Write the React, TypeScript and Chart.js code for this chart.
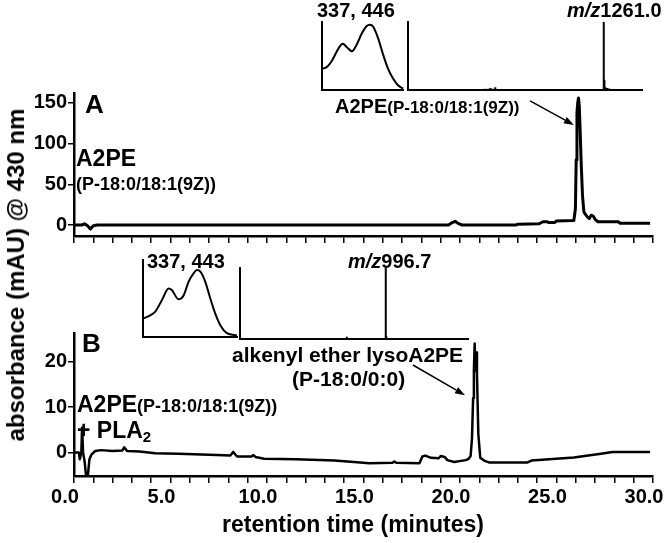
import React, { useEffect, useRef } from "react";
import { Chart, registerables } from "chart.js";

Chart.register(...registerables);

const FONT = '"Liberation Sans", Arial, Helvetica, sans-serif';

// ---- Panel A chromatogram: retention time (min) / absorbance (mAU) ----
const timeA = [0, 0.4, 0.55, 0.7, 0.85, 1.0, 1.2, 19.4, 19.6, 19.75, 19.9, 20.1, 22.9, 23.0, 24.1, 24.3, 24.5, 24.6, 24.9, 25.0, 25.9, 25.98, 26.02, 26.06, 26.1, 26.14, 26.18, 26.22, 26.28, 26.35, 26.42, 26.5, 26.6, 26.7, 26.8, 26.9, 27.0, 27.15, 28.2, 28.3, 29.85];
const absA = [0, 0, 1.5, -1, -5, -1, 0, 0, 3, 4.5, 2, 0, 0, 1, 1.5, 4, 4, 3, 3, 5, 5.5, 20, 80, 138, 150, 156, 146, 120, 75, 35, 16, 13, 10, 8, 12, 11, 7, 4, 4, 2, 2];

// ---- Panel B chromatogram ----
const timeB = [0, 0.25, 0.3, 0.38, 0.42, 0.47, 0.55, 0.62, 0.72, 0.8, 0.9, 1.1, 1.4, 2.0, 2.5, 2.6, 2.75, 3.4, 4.2, 5.4, 7.4, 8.1, 8.25, 8.45, 9.2, 9.3, 9.4, 9.85, 11.5, 13.5, 14.5, 15.3, 16.5, 16.6, 16.7, 17.9, 18.05, 18.2, 18.5, 18.9, 19.0, 19.2, 19.35, 19.7, 20.3, 20.45, 20.55, 20.62, 20.68, 20.72, 20.76, 20.8, 20.84, 20.88, 20.95, 21.05, 21.25, 21.5, 23.5, 23.7, 25.9, 27.3, 27.9, 29.85];
const absB = [0, 0, -1.5, 0, 5.5, 0, -2, -5, -5, -1.5, -0.5, 0.3, 0.5, 0.3, 0.4, 1.1, 0.3, 0.2, -0.2, -0.3, -0.6, -0.7, 0.1, -0.9, -0.9, -0.6, -1.0, -1.4, -1.5, -1.8, -2.1, -2.4, -2.3, -2.0, -2.3, -2.4, -0.9, -0.7, -1.2, -1.3, -0.8, -1.0, -1.7, -2.1, -1.7, -1.4, -0.8, 3, 12, 18, 24, 18, 22, 17, 4, -1.2, -1.8, -2.2, -2.2, -1.8, -1.1, -0.3, 0.1, 0.1];

// axes
const xRange = [0, 30];
const xMinorStep = 1;
const xLabelStep = 5;
const yRangeA = [-13.5, 162];
const yStepA = 50;
const yRangeB = [-5.2, 26.3];
const yStepB = 10;

// arrows (from [time, value] to [time, value])
const arrowA = { from: [23.63, 152.4], to: [25.9, 122.7] };
const arrowB = { from: [17.56, 19.25], to: [20.26, 12.6] };

// ---- UV/Vis insets (wavelength nm, normalized absorbance) ----
const uvNmA = [253, 273, 293, 313, 326, 337, 353, 373, 393, 413, 433, 446, 459, 479, 499, 519, 539, 559, 579];
const uvAbsA = [0.31, 0.34, 0.43, 0.57, 0.65, 0.68, 0.63, 0.57, 0.67, 0.83, 0.94, 0.96, 0.93, 0.76, 0.52, 0.31, 0.17, 0.07, 0.02];
const uvNmB = [241, 268, 287, 312, 337, 349, 374, 393, 412, 431, 443, 456, 474, 493, 512, 531, 555, 593];
const uvAbsB = [0.24, 0.28, 0.33, 0.48, 0.63, 0.61, 0.49, 0.54, 0.72, 0.83, 0.87, 0.85, 0.72, 0.5, 0.3, 0.15, 0.05, 0.02];

// ---- mass spectra insets (m/z, relative intensity) ----
const msRange = [140, 1480];
const msMzA = [580, 600, 612, 625, 640, 1261.0, 1263, 1266, 1270, 1276, 1283, 1291, 1298];
const msIntA = [0.02, 0.02, 0.03, 0.02, 0.04, 1.0, 0.15, 0.06, 0.04, 0.03, 0.03, 0.02, 0.02];
const msMzB = [768, 996.7, 1000];
const msIntB = [0.03, 1.0, 0.04];

const tickFont = { family: FONT, size: 20, weight: "bold" as const };

const arrowPlugin = {
  id: "arrows",
  afterDatasetsDraw(chart: any, _a: any, opts: any) {
    const items = (opts && opts.items) || [];
    const { ctx } = chart;
    const xs = chart.scales.x;
    const ys = chart.scales.y;
    ctx.save();
    ctx.strokeStyle = "#000";
    ctx.fillStyle = "#000";
    ctx.lineWidth = 1.5;
    for (const a of items) {
      const x1 = xs.getPixelForValue(a.from[0]);
      const y1 = ys.getPixelForValue(a.from[1]);
      const x2 = xs.getPixelForValue(a.to[0]);
      const y2 = ys.getPixelForValue(a.to[1]);
      const ang = Math.atan2(y2 - y1, x2 - x1);
      const head = 10;
      const hw = 3.5;
      const c = Math.cos(ang);
      const s = Math.sin(ang);
      ctx.beginPath();
      ctx.moveTo(x1, y1);
      ctx.lineTo(x2 - head * c, y2 - head * s);
      ctx.stroke();
      ctx.beginPath();
      ctx.moveTo(x2, y2);
      ctx.lineTo(x2 - head * c + hw * s, y2 - head * s - hw * c);
      ctx.lineTo(x2 - head * c - hw * s, y2 - head * s + hw * c);
      ctx.closePath();
      ctx.fill();
    }
    ctx.restore();
  },
};

function mainConfig(
  times: number[],
  vals: number[],
  yRange: number[],
  yStep: number,
  showXLabels: boolean,
  lineWidth: number,
  padTop: number,
  xAxisHeight: number,
  arrow: any
): any {
  return {
    type: "line",
    data: {
      datasets: [
        {
          data: times.map((t, i) => ({ x: t, y: vals[i] })),
          borderColor: "#000",
          borderWidth: lineWidth,
          pointRadius: 0,
          tension: 0,
          fill: false,
          borderJoinStyle: "round",
        },
      ],
    },
    options: {
      animation: false,
      responsive: false,
      maintainAspectRatio: false,
      events: [],
      layout: { padding: { top: padTop, right: 14, left: 0, bottom: 0 } },
      plugins: {
        legend: { display: false },
        tooltip: { enabled: false },
        arrows: { items: [arrow] },
      },
      scales: {
        x: {
          type: "linear",
          min: xRange[0],
          max: xRange[1],
          ticks: {
            stepSize: xMinorStep,
            autoSkip: false,
            maxRotation: 0,
            minRotation: 0,
            display: showXLabels,
            color: "#000",
            font: tickFont,
            padding: 2,
            labelOffset: -9,
            callback: (v: number) => (Math.abs(v % xLabelStep) < 1e-9 ? v.toFixed(1) : ""),
          },
          grid: { drawOnChartArea: false, color: "#000", lineWidth: 1.5, tickLength: 7 },
          border: { color: "#000", width: 2.5 },
          afterFit: (s: any) => {
            s.height = xAxisHeight;
            s.paddingLeft = 0;
            s.paddingRight = 0;
          },
        },
        y: {
          type: "linear",
          min: yRange[0],
          max: yRange[1],
          ticks: { stepSize: yStep, includeBounds: false, color: "#000", font: tickFont, padding: 1 },
          grid: { drawOnChartArea: false, color: "#000", lineWidth: 1.5, tickLength: 6 },
          border: { color: "#000", width: 2.5 },
          afterFit: (s: any) => {
            s.width = 74;
            s.paddingTop = 0;
            s.paddingBottom = 0;
          },
        },
      },
    },
    plugins: [arrowPlugin],
  };
}

function insetConfig(points: { x: number; y: number }[], xMin: number, xMax: number, lineWidth: number, smooth: boolean): any {
  const hidden = (w: boolean) => (s: any) => {
    if (w) s.width = 0;
    else s.height = 0;
    s.paddingLeft = 0;
    s.paddingRight = 0;
    s.paddingTop = 0;
    s.paddingBottom = 0;
  };
  return {
    type: "line",
    data: {
      datasets: [
        {
          data: points,
          borderColor: "#000",
          borderWidth: lineWidth,
          pointRadius: 0,
          tension: smooth ? 0.4 : 0,
          cubicInterpolationMode: smooth ? "monotone" : "default",
          fill: false,
          clip: false,
        },
      ],
    },
    options: {
      animation: false,
      responsive: false,
      maintainAspectRatio: false,
      events: [],
      layout: { padding: 4 },
      plugins: { legend: { display: false }, tooltip: { enabled: false } },
      scales: {
        x: {
          type: "linear",
          min: xMin,
          max: xMax,
          ticks: { display: false },
          grid: { display: false },
          border: { display: true, color: "#000", width: 2 },
          afterFit: hidden(false),
        },
        y: {
          type: "linear",
          min: 0,
          max: 1,
          ticks: { display: false },
          grid: { display: false },
          border: { display: true, color: "#000", width: 2 },
          afterFit: hidden(true),
        },
      },
    },
  };
}

function spikes(mz: number[], inten: number[], lo: number, hi: number) {
  const pts: { x: number; y: number }[] = [{ x: lo, y: 0 }];
  mz.forEach((m, i) => {
    pts.push({ x: m, y: 0 }, { x: m, y: inten[i] }, { x: m, y: 0 });
  });
  pts.push({ x: hi, y: 0 });
  return pts;
}

type Box = { l: number; t: number; r: number; b: number };
const boxUvA: Box = { l: 322, t: 22, r: 403, b: 90 };
const boxMsA: Box = { l: 408, t: 22, r: 642, b: 90 };
const boxUvB: Box = { l: 143, t: 260, r: 237, b: 337 };
const boxMsB: Box = { l: 240, t: 268, r: 468, b: 339 };

function boxStyle(b: Box): React.CSSProperties {
  return { position: "absolute", left: b.l - 4, top: b.t - 4 };
}

function Label(props: { x: number; base: number; size: number; children: React.ReactNode }) {
  return (
    <div
      style={{
        position: "absolute",
        left: props.x,
        top: props.base - 0.8465 * props.size,
        fontSize: props.size,
        lineHeight: 1,
        fontWeight: "bold",
        whiteSpace: "nowrap",
        fontFamily: FONT,
        color: "#000",
      }}
    >
      {props.children}
    </div>
  );
}

export default function App() {
  const refA = useRef<HTMLCanvasElement>(null);
  const refB = useRef<HTMLCanvasElement>(null);
  const refUvA = useRef<HTMLCanvasElement>(null);
  const refMsA = useRef<HTMLCanvasElement>(null);
  const refUvB = useRef<HTMLCanvasElement>(null);
  const refMsB = useRef<HTMLCanvasElement>(null);

  useEffect(() => {
    document.body.style.margin = "0";
    const charts: Chart[] = [];
    charts.push(new Chart(refA.current!, mainConfig(timeA, absA, yRangeA, yStepA, false, 3, 93, 14, arrowA)));
    charts.push(new Chart(refB.current!, mainConfig(timeB, absB, yRangeB, yStepB, true, 2.5, 83, 67, arrowB)));
    charts.push(
      new Chart(
        refUvA.current!,
        insetConfig(uvNmA.map((x, i) => ({ x, y: uvAbsA[i] })), uvNmA[0], uvNmA[uvNmA.length - 1], 2, true)
      )
    );
    charts.push(
      new Chart(
        refUvB.current!,
        insetConfig(uvNmB.map((x, i) => ({ x, y: uvAbsB[i] })), uvNmB[0], uvNmB[uvNmB.length - 1], 2, true)
      )
    );
    charts.push(new Chart(refMsA.current!, insetConfig(spikes(msMzA, msIntA, msRange[0], msRange[1]), msRange[0], msRange[1], 2, false)));
    charts.push(new Chart(refMsB.current!, insetConfig(spikes(msMzB, msIntB, msRange[0], msRange[1]), msRange[0], msRange[1], 2, false)));
    return () => charts.forEach((c) => c.destroy());
  }, []);

  const insetCanvas = (ref: React.RefObject<HTMLCanvasElement>, b: Box) => (
    <canvas ref={ref} width={b.r - b.l + 8} height={b.b - b.t + 8} style={boxStyle(b)} />
  );

  return (
    <div style={{ position: "relative", width: 667, height: 543, background: "#fff", overflow: "hidden", fontFamily: FONT }}>
      <canvas ref={refA} width={667} height={250} style={{ position: "absolute", left: 0, top: 0 }} />
      <canvas ref={refB} width={667} height={293} style={{ position: "absolute", left: 0, top: 250 }} />
      {insetCanvas(refUvA, boxUvA)}
      {insetCanvas(refMsA, boxMsA)}
      {insetCanvas(refUvB, boxUvB)}
      {insetCanvas(refMsB, boxMsB)}

      {/* Panel A texts */}
      <Label x={317} base={17} size={20}>337, 446</Label>
      <Label x={567} base={17} size={20}>
        <i>m/z</i>1261.0
      </Label>
      <Label x={335} base={113} size={20}>
        A2PE<span style={{ fontSize: 17 }}>(P-18:0/18:1(9Z))</span>
      </Label>
      <Label x={85} base={113} size={26}>A</Label>
      <Label x={76} base={166} size={23}>A2PE</Label>
      <Label x={76} base={190} size={18}>(P-18:0/18:1(9Z))</Label>

      {/* Panel B texts */}
      <Label x={147} base={268} size={20}>337, 443</Label>
      <Label x={348} base={268} size={20}>
        <i>m/z</i>996.7
      </Label>
      <Label x={232} base={362} size={21}>alkenyl ether lysoA2PE</Label>
      <Label x={292} base={386} size={21}>(P-18:0/0:0)</Label>
      <Label x={82} base={352} size={26}>B</Label>
      <Label x={77} base={412} size={23}>
        A2PE<span style={{ fontSize: 18 }}>(P-18:0/18:1(9Z))</span>
      </Label>
      <Label x={77} base={438} size={23}>
        + PLA<span style={{ fontSize: 15, verticalAlign: "-4px" }}>2</span>
      </Label>

      {/* axis titles */}
      <div
        style={{
          position: "absolute",
          left: 16,
          top: 275,
          transform: "translate(-50%, -50%) rotate(-90deg)",
          fontSize: 24,
          lineHeight: 1,
          fontWeight: "bold",
          whiteSpace: "nowrap",
          fontFamily: FONT,
        }}
      >
        absorbance (mAU) @ 430 nm
      </div>
      <div
        style={{
          position: "absolute",
          left: 353,
          top: 532 - 0.8465 * 23,
          transform: "translateX(-50%)",
          fontSize: 23,
          lineHeight: 1,
          fontWeight: "bold",
          whiteSpace: "nowrap",
          fontFamily: FONT,
        }}
      >
        retention time (minutes)
      </div>
    </div>
  );
}
